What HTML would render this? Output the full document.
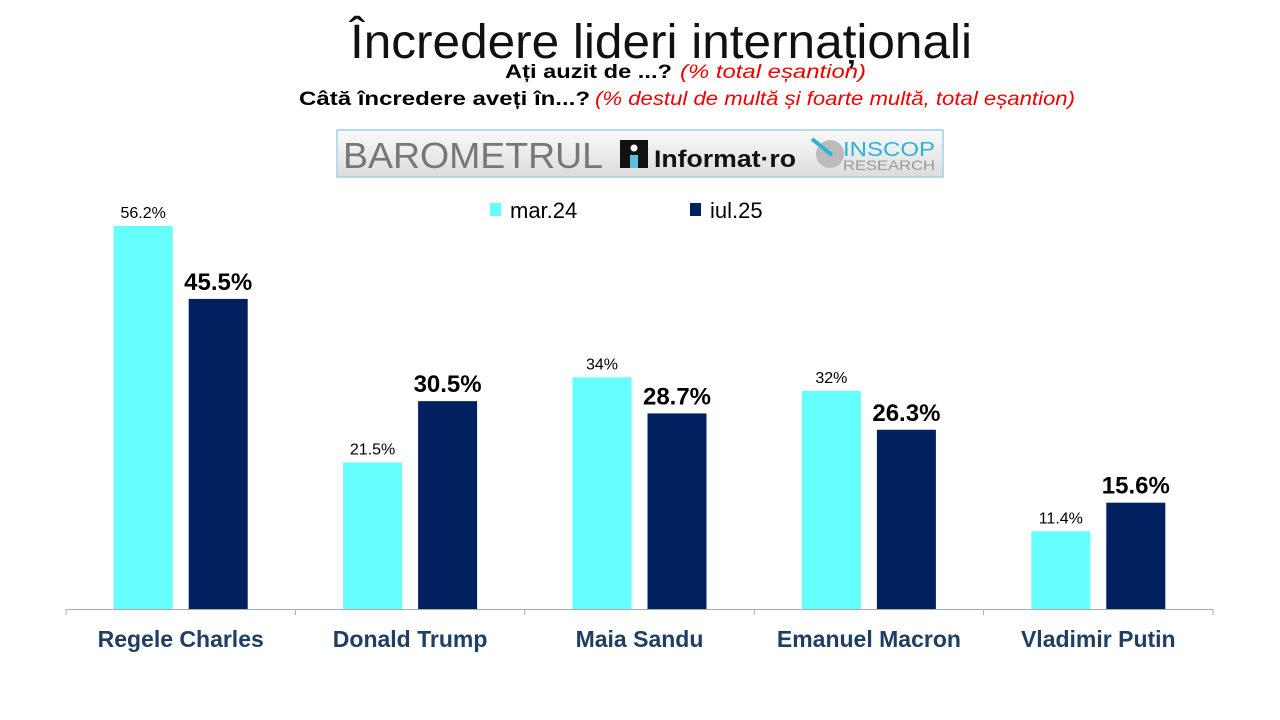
<!DOCTYPE html>
<html><head><meta charset="utf-8"><style>
body{margin:0;background:#fff;width:1280px;height:720px;overflow:hidden}
svg{display:block}
</style></head><body>
<svg id="chart" width="1280" height="720" xmlns="http://www.w3.org/2000/svg">
<text x="350" y="58" font-family="Liberation Sans, sans-serif" font-size="48" textLength="622" lengthAdjust="spacingAndGlyphs" fill="#111">Încredere lideri internaționali</text>
<g font-family="Liberation Sans, sans-serif" font-size="19">
<text x="505" y="78" font-weight="bold" textLength="167" lengthAdjust="spacingAndGlyphs" fill="#000">Ați auzit de ...?</text>
<text x="680" y="78" font-style="italic" textLength="186" lengthAdjust="spacingAndGlyphs" fill="#e00">(% total eșantion)</text>
<text x="299" y="105" font-weight="bold" textLength="291" lengthAdjust="spacingAndGlyphs" fill="#000">Câtă încredere aveți în...?</text>
<text x="595" y="105" font-style="italic" textLength="480" lengthAdjust="spacingAndGlyphs" fill="#e00">(% destul de multă și foarte multă, total eșantion)</text>
</g>
<g>
<defs><linearGradient id="lg" x1="0" x2="0" y1="0" y2="1"><stop offset="0" stop-color="#fafafa"/><stop offset="1" stop-color="#dcdcdc"/></linearGradient></defs>
<rect x="337" y="130" width="606" height="47" fill="url(#lg)" stroke="#9fd3e6" stroke-width="1.5"/>
<text x="343" y="168" font-family="Liberation Sans, sans-serif" font-size="36" fill="#777" textLength="260" lengthAdjust="spacingAndGlyphs">BAROMETRUL</text>
<rect x="620" y="140" width="28" height="28" fill="#111"/>
<rect x="630" y="155" width="8" height="13" fill="#5bc0de"/>
<circle cx="634" cy="148" r="3.5" fill="#fff"/>
<text x="654" y="167" font-family="Liberation Sans, sans-serif" font-weight="bold" font-size="24" fill="#111" textLength="142" lengthAdjust="spacingAndGlyphs">Informat·ro</text>
<circle cx="830" cy="154" r="14" fill="#bbb"/>
<line x1="812" y1="139" x2="832" y2="155" stroke="#29b5d8" stroke-width="4"/>
<text x="843" y="156" font-family="Liberation Sans, sans-serif" font-size="20" fill="#29b5d8" textLength="92" lengthAdjust="spacingAndGlyphs">INSCOP</text>
<text x="843" y="170" font-family="Liberation Sans, sans-serif" font-size="14" fill="#999" textLength="92" lengthAdjust="spacingAndGlyphs">RESEARCH</text>
</g>
<g>
<rect x="490" y="203" width="11" height="13" fill="#66ffff"/>
<text x="510" y="218" font-family="Liberation Sans, sans-serif" font-size="22" fill="#000">mar.24</text>
<rect x="690" y="203" width="11" height="13" fill="#002060"/>
<text x="710" y="218" font-family="Liberation Sans, sans-serif" font-size="22" fill="#000">iul.25</text>
</g>
<g id="plot"></g>
</svg>
<script>
const categories=["Regele Charles","Donald Trump","Maia Sandu","Emanuel Macron","Vladimir Putin"];
const mar24=[56.2,21.5,34,32,11.4];
const iul25=[45.5,30.5,28.7,26.3,15.6];
const mar24Labels=["56.2%","21.5%","34%","32%","11.4%"];
const iul25Labels=["45.5%","30.5%","28.7%","26.3%","15.6%"];
const NS="http://www.w3.org/2000/svg";
const x0=66,x1=1213,base=609,pxPer=6.815;
const bw=(x1-x0)/categories.length;
const y=v=>base-v*pxPer;
const xc=i=>x0+bw*(i+0.5);
const g=document.getElementById('plot');
function mk(t,a){const e=document.createElementNS(NS,t);for(const k in a)e.setAttribute(k,a[k]);g.appendChild(e);return e;}
const ax=mk('line',{x1:x0,x2:x1,y1:base+0.5,y2:base+0.5,stroke:'#aaa','stroke-width':1});


for(let i=0;i<=categories.length;i++){
 const t=mk('line',{x1:x0+bw*i,x2:x0+bw*i,y1:base,y2:base+6,stroke:'#aaa'});
 
 
}
categories.forEach((c,i)=>{
 const cx=xc(i);
 const b1=mk('rect',{x:cx-67,y:y(mar24[i]),width:59,height:base-y(mar24[i]),fill:'#66ffff'});
 
 
 const b2=mk('rect',{x:cx+8,y:y(iul25[i]),width:59,height:base-y(iul25[i]),fill:'#002060'});
 
 
 const l1=mk('text',{x:cx-37.5,y:y(mar24[i])-8,'text-anchor':'middle','font-family':'Liberation Sans, sans-serif','font-size':16,fill:'#000'});
 l1.textContent=mar24Labels[i];
 
 
 const l2=mk('text',{x:cx+37.5,y:y(iul25[i])-9,'text-anchor':'middle','font-family':'Liberation Sans, sans-serif','font-size':24,'font-weight':'bold',fill:'#000'});
 l2.textContent=iul25Labels[i];
 
 
 const cl=mk('text',{x:cx,y:647,'text-anchor':'middle','font-family':'Liberation Sans, sans-serif','font-size':23,'font-weight':'bold',fill:'#1f3e64'});
 cl.textContent=c;
 
 
});
</script>
</body></html>
